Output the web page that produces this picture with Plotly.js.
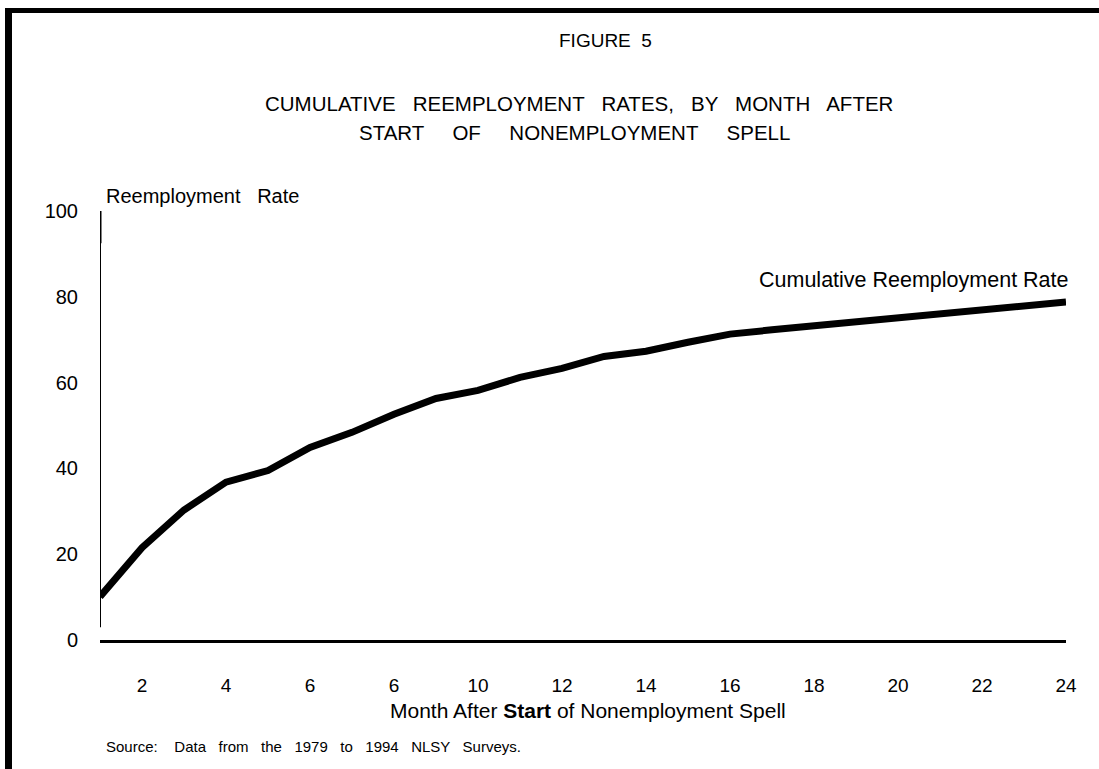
<!DOCTYPE html>
<html>
<head>
<meta charset="utf-8">
<script src="https://cdn.plot.ly/plotly-3.0.1.min.js"></script>
<style>
  html, body { margin: 0; padding: 0; background: #fff; }
  #wrap { position: relative; width: 1099px; height: 769px; overflow: hidden; }
  #chart { width: 1099px; height: 769px; }
  #frame { position: absolute; left: 5px; top: 8px; right: -10px; bottom: -10px;
           border-top: 5px solid #000; border-left: 7px solid #000; pointer-events: none; }
</style>
</head>
<body>
<div id="wrap">
  <div id="chart"></div>
  <div id="frame"></div>
</div>
<script>
// ---- data ----
const months = [1, 2, 3, 4, 5, 6, 7, 8, 9, 10, 11, 12, 13, 14, 15, 16, 17, 18, 19, 20, 21, 22, 23, 24];
const rate = [10.1, 21.5, 30.3, 36.8, 39.5, 44.9, 48.4, 52.6, 56.3, 58.2, 61.2, 63.3, 66.1, 67.3, 69.4, 71.3, 72.3, 73.2, 74.2, 75.2, 76.1, 76.9, 77.9, 78.8];
const xTickVals = [2, 4, 6, 8, 10, 12, 14, 16, 18, 20, 22, 24];
const xTickText = ["2", "4", "6", "6", "10", "12", "14", "16", "18", "20", "22", "24"];
const yTickVals = [0, 20, 40, 60, 80, 100];
const yTickText = ["0", "20", "40", "60", "80", "100"];
const seriesName = "Cumulative Reemployment Rate";

// ---- layout geometry ----
const W = 1099, H = 769;
const M = { l: 100, r: 33, t: 211, b: 129 };
const PW = W - M.l - M.r, PH = H - M.t - M.b;
const px = x => (x - M.l) / PW;
const py = y => (H - M.b - y) / PH;

const narrow = "Liberation Sans Narrow, Arial Narrow, Liberation Sans, Arial, sans-serif";
const wide = "Liberation Sans, Arial, Helvetica, sans-serif";

function ann(text, x, y, size, family, xanchor) {
  return { text: text, xref: "paper", yref: "paper", x: px(x), y: py(y),
           xanchor: xanchor || "center", yanchor: "middle", showarrow: false,
           font: { family: family, size: size, color: "#000" } };
}

const trace = {
  x: months, y: rate, type: "scatter", mode: "lines", name: seriesName,
  line: { color: "#000", width: 7, shape: "linear" }, hoverinfo: "x+y"
};

const layout = {
  width: W, height: H,
  margin: M,
  paper_bgcolor: "#fff", plot_bgcolor: "#fff",
  showlegend: false,
  title: { text: "" },
  xaxis: {
    range: [1, 24], tickmode: "array", tickvals: xTickVals, ticktext: xTickText,
    showgrid: false, zeroline: false, showline: true, linecolor: "#000", linewidth: 3,
    ticks: "outside", ticklen: 26, tickcolor: "rgba(0,0,0,0)",
    tickfont: { family: narrow, size: 19, color: "#000" },
    title: { text: "" }, fixedrange: true
  },
  yaxis: {
    range: [0, 100], tickmode: "array", tickvals: yTickVals, ticktext: yTickText,
    showgrid: false, zeroline: false, showline: false,
    ticks: "outside", ticklen: 17, tickcolor: "rgba(0,0,0,0)",
    tickfont: { family: wide, size: 20, color: "#000" },
    title: { text: "" }, fixedrange: true
  },
  shapes: [
    { type: "line", xref: "x", yref: "y", x0: 1, x1: 1, y0: 3, y1: 100,
      line: { color: "#000", width: 2 } },
    { type: "line", xref: "x", yref: "y", x0: 1, x1: 1, y0: 92.5, y1: 100,
      line: { color: "#000", width: 3 } }
  ],
  annotations: [
    ann("FIGURE  5", 605, 40, 19, narrow),
    ann("CUMULATIVE   REEMPLOYMENT   RATES,   BY   MONTH   AFTER", 579, 103, 20.5, narrow),
    ann("START     OF     NONEMPLOYMENT     SPELL", 574, 133, 20.5, narrow),
    ann("Reemployment   Rate", 104, 196, 20, narrow, "left"),
    ann(seriesName, 1071, 280, 21.5, wide, "right"),
    ann("Month After <b>Start</b> of Nonemployment Spell", 588, 710, 21, narrow),
    ann("Source:    Data   from   the   1979   to   1994   NLSY   Surveys.", 104, 746, 15, narrow, "left")
  ]
};

Plotly.newPlot("chart", [trace], layout, { displayModeBar: false, staticPlot: true });
</script>
</body>
</html>
